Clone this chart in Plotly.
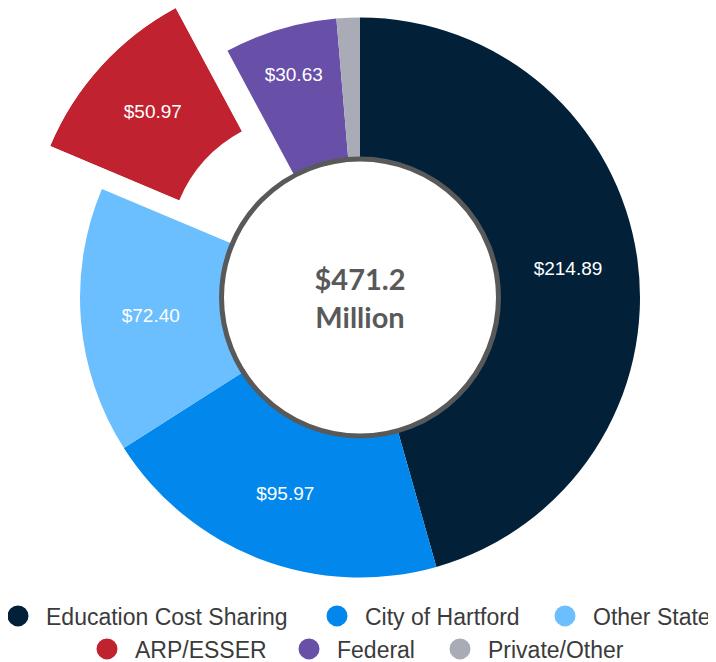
import math
import plotly.graph_objects as go

# data
labels = ["Education Cost Sharing", "City of Hartford", "Other State",
          "ARP/ESSER", "Federal", "Private/Other"]
values = [214.89, 95.97, 72.40, 50.97, 30.63, 6.34]
slice_text = ["$214.89", "$95.97", "$72.40", "$50.97", "$30.63", ""]
colors = ["#022139", "#0287EC", "#6BBFFF", "#C0232F", "#684FA8", "#A9ACB6"]
total_label = "$471.2<br>Million"
pulled = "ARP/ESSER"

# layout, in page px (the page body has an 8px margin)
OFF = 8
W, H = 716 - OFF, 662 - OFF
CX, CY, R = 360, 297.5, 280
HOLE = 0.5
PULL = 0.25
legend_pos = [(18, 616), (337, 616), (565, 616), (107, 649), (309, 649), (460, 649)]
FONT = "Arial, Liberation Sans, sans-serif"


def px(x, y):
    return (x - OFF) / W, 1 - (y - OFF) / H


total = sum(values)
k = labels.index(pulled)
start = sum(values[:k]) / total * 360
span = values[k] / total * 360
mid = start + span / 2

# the pulled slice lives in its own polar subplot, centred on the offset origin
s0 = (90 - start - span) % 360
s1 = s0 + span
cs = [math.cos(math.radians(a)) for a in (s0, s1)] + [0]
sn = [math.sin(math.radians(a)) for a in (s0, s1)] + [0]
ox = CX + PULL * R * math.sin(math.radians(mid))
oy = CY - PULL * R * math.cos(math.radians(mid))
oy = max(oy, OFF + R * max(sn))  # keep the wedge inside the page
px0, py0 = px(ox + R * min(cs), oy - R * min(sn))
px1, py1 = px(ox + R * max(cs), oy - R * max(sn))
py1 = min(py1, 1.0)

dx0, dy0 = px(CX - R, CY + R)
dx1, dy1 = px(CX + R, CY - R)

pie_colors = ["rgba(0,0,0,0)" if l == pulled else c for l, c in zip(labels, colors)]
pie_text = ["" if l == pulled else t for l, t in zip(labels, slice_text)]

fig = go.Figure()

fig.add_trace(go.Pie(
    labels=labels,
    values=values,
    text=pie_text,
    textinfo="text",
    textposition="inside",
    insidetextorientation="horizontal",
    textfont=dict(family=FONT, size=19, color="white"),
    marker=dict(colors=pie_colors, line=dict(width=0)),
    hole=HOLE,
    sort=False,
    direction="clockwise",
    rotation=0,
    domain=dict(x=[dx0, dx1], y=[dy0, dy1]),
    title=dict(text=total_label, position="middle center",
               font=dict(family="Lato, Open Sans, sans-serif", size=29, color="#595959", weight="bold")),
    showlegend=False,
    hoverinfo="skip",
))

fig.add_trace(go.Barpolar(
    r=[1 - HOLE],
    base=[HOLE],
    theta=[mid],
    width=[span],
    marker=dict(color=colors[k], line=dict(width=0)),
    showlegend=False,
    hoverinfo="skip",
))

fig.add_trace(go.Scatterpolar(
    r=[(1 + HOLE) / 2],
    theta=[mid],
    mode="text",
    text=[slice_text[k]],
    textfont=dict(family=FONT, size=19, color="white"),
    showlegend=False,
    hoverinfo="skip",
))

# legend entries, one small legend each so the spacing matches
legends = {}
for i, (name, c) in enumerate(zip(labels, colors)):
    key = "legend" if i == 0 else f"legend{i + 1}"
    fig.add_trace(go.Scatterpolar(
        r=[None], theta=[None], mode="markers", name=name,
        marker=dict(symbol="circle", size=16, color=c, line=dict(width=5, color=c)),
        legend=key, showlegend=True,
    ))
    lx, ly = legend_pos[i]
    x, y = px(lx - 28, ly)
    legends[key] = dict(
        x=x, xanchor="left", y=y, yanchor="middle",
        font=dict(family=FONT, size=23, color="#3b3b3b"),
        itemwidth=46, bgcolor="rgba(0,0,0,0)", borderwidth=0,
        itemclick=False, itemdoubleclick=False,
    )

ring = R * HOLE - 1.5
rx0, ry0 = px(CX - ring, CY + ring)
rx1, ry1 = px(CX + ring, CY - ring)

fig.update_layout(
    width=W, height=H,
    margin=dict(l=0, r=0, t=0, b=0, autoexpand=False),
    paper_bgcolor="white",
    plot_bgcolor="white",
    polar=dict(
        domain=dict(x=[px0, px1], y=[py0, py1]),
        sector=[s0, s1],
        bgcolor="rgba(0,0,0,0)",
        radialaxis=dict(range=[0, 1], visible=False),
        angularaxis=dict(rotation=90, direction="clockwise", visible=False),
    ),
    shapes=[dict(type="circle", xref="paper", yref="paper",
                 x0=rx0, x1=rx1, y0=ry0, y1=ry1,
                 line=dict(color="#595959", width=5), layer="above")],
    **legends,
)

fig.write_html("out.html")
